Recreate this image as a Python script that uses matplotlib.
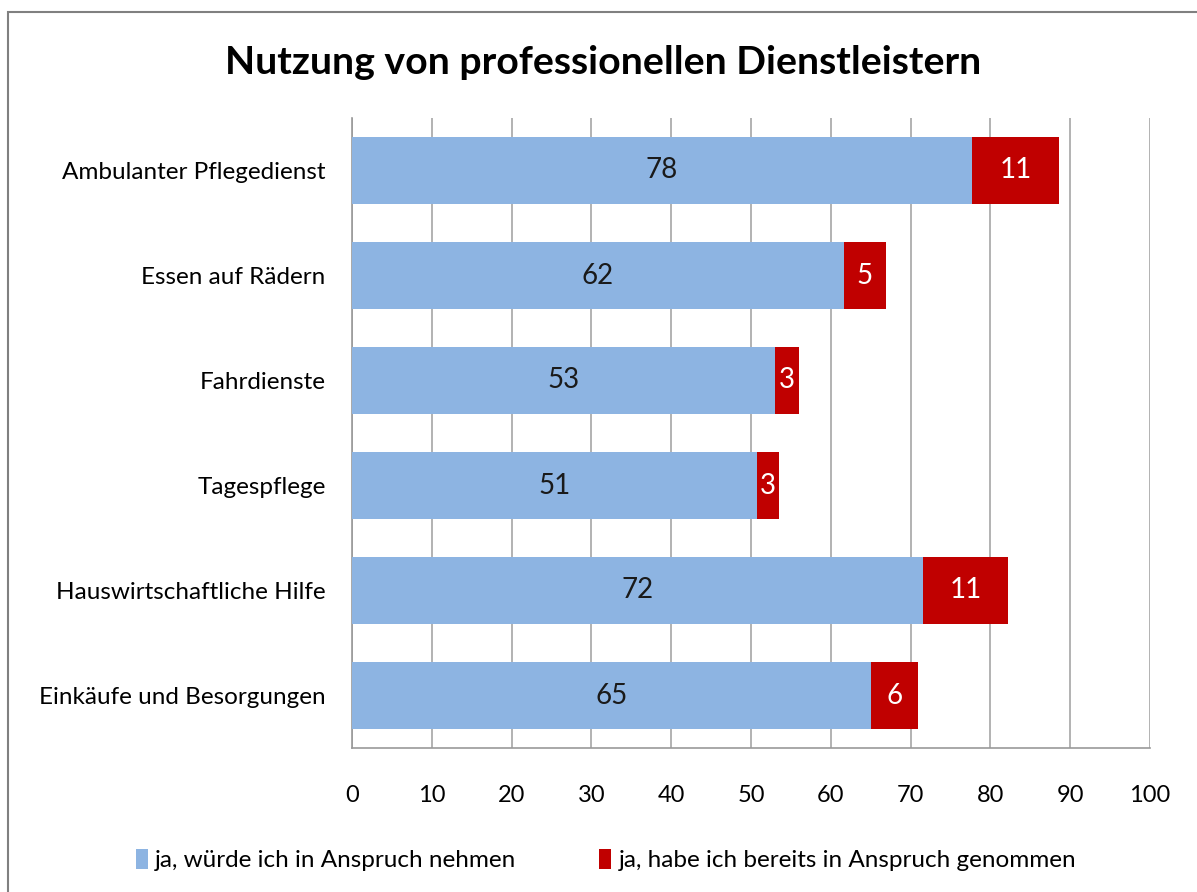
import matplotlib.pyplot as plt
import matplotlib.patches as patches
import numpy as np

plt.rcParams['font.family'] = ['Lato', 'DejaVu Sans']

categories = ["Ambulanter Pflegedienst", "Essen auf Rädern", "Fahrdienste",
              "Tagespflege", "Hauswirtschaftliche Hilfe", "Einkäufe und Besorgungen"]
would_use = [77.7, 61.6, 53.0, 50.8, 71.6, 65.0]
already_used = [10.9, 5.3, 3.0, 2.7, 10.6, 5.9]
would_labels = ["78", "62", "53", "51", "72", "65"]
already_labels = ["11", "5", "3", "3", "11", "6"]
legend_names = ["ja, würde ich in Anspruch nehmen", "ja, habe ich bereits in Anspruch genommen"]

blue = '#8DB4E2'
red = '#C00000'

W, H = 1197, 892
fig = plt.figure(figsize=(W / 100, H / 100), dpi=100)
ax = fig.add_axes([352 / W, 1 - 748 / H, (1150 - 352) / W, (748 - 118) / H])

y = np.arange(len(categories))
b1 = ax.barh(y, would_use, height=0.64, color=blue, zorder=3)
b2 = ax.barh(y, already_used, left=would_use, height=0.64, color=red, zorder=3)

for i in range(len(categories)):
    ax.text(would_use[i] / 2, y[i], would_labels[i], ha='center', va='center',
            fontsize=20, color='#1a1a1a', zorder=4)
    ax.text(would_use[i] + already_used[i] / 2, y[i], already_labels[i], ha='center', va='center',
            fontsize=20, color='white', zorder=4)

ax.set_ylim(len(categories) - 0.5, -0.5)
ax.set_xlim(0, 100)
ax.set_xticks(np.arange(0, 101, 10))
ax.set_yticks(y)
ax.set_yticklabels(categories, fontsize=17.5)
ax.tick_params(axis='x', labelsize=17, length=0, pad=27)
ax.tick_params(axis='y', length=0, pad=19)
ax.grid(axis='x', color='#a6a6a6', linewidth=1.2, zorder=0)
for s in ['top', 'right']:
    ax.spines[s].set_visible(False)
for s in ['left', 'bottom']:
    ax.spines[s].set_color('#999999')
    ax.spines[s].set_linewidth(1.2)

fig.text(603 / W, 1 - 62 / H, "Nutzung von professionellen Dienstleistern",
         ha='center', va='center', fontsize=28.3, fontweight='bold')

fig.legend([b1, b2], legend_names, loc='center', bbox_to_anchor=(606 / W, 1 - 860 / H),
           ncol=2, frameon=False, fontsize=17.5, handlelength=0.5, handleheight=0.9,
           handletextpad=0.3, columnspacing=3.4)

fig.add_artist(patches.Rectangle((8 / W, -0.1), 1.2, 1 - 12 / H + 0.1, transform=fig.transFigure,
                                 fill=False, edgecolor='#808080', linewidth=1.5))

fig.savefig('out.png', dpi=100)
